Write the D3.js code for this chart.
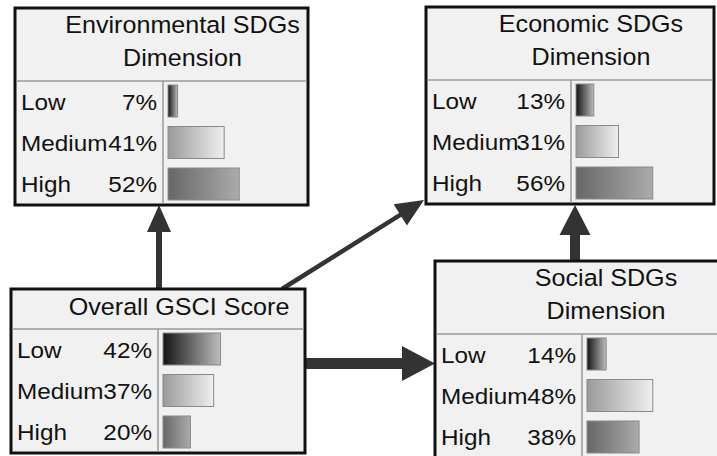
<!DOCTYPE html>
<html>
<head>
<meta charset="utf-8">
<script src="https://cdn.jsdelivr.net/npm/d3@7"></script>
<style>
  html, body { margin: 0; padding: 0; background: #fff; }
  svg { display: block; }
</style>
</head>
<body>
<svg id="chart" width="717" height="456"></svg>
<script>
// ---- Data ----
const states = ["Low", "Medium", "High"];
const nodeNames = ["Environmental SDGs Dimension", "Economic SDGs Dimension", "Overall GSCI Score", "Social SDGs Dimension"];
const environmentalValues = [7, 41, 52];
const economicValues = [13, 31, 56];
const overallValues = [42, 37, 20];
const socialValues = [14, 48, 38];
const titleLines = [["Environmental SDGs", "Dimension"], ["Economic SDGs", "Dimension"], ["Overall GSCI Score"], ["Social SDGs", "Dimension"]];
const links = [["Overall GSCI Score", "Environmental SDGs Dimension"], ["Overall GSCI Score", "Economic SDGs Dimension"], ["Overall GSCI Score", "Social SDGs Dimension"], ["Social SDGs Dimension", "Economic SDGs Dimension"]];

// ---- Layout ----
const valuesByNode = [environmentalValues, economicValues, overallValues, socialValues];
const boxLayout = [
  { x: 15,  y: 8,   w: 293, div: 148 },
  { x: 426, y: 7,   w: 288, div: 145 },
  { x: 11,  y: 289, w: 294, div: 147 },
  { x: 435, y: 261, w: 300, div: 147 }
];
const nodes = nodeNames.map((name, i) => ({ name, lines: titleLines[i], values: valuesByNode[i], ...boxLayout[i] }));

const svg = d3.select("#chart");
const font = "'Liberation Sans', Arial, sans-serif";
const x = d3.scaleLinear().domain([0, 100]).range([0, 137]);

// gradients
const defs = svg.append("defs");
const grads = { Low: ["#141414", "#bdbdbd"], Medium: ["#9a9a9a", "#efefef"], High: ["#676767", "#ababab"] };
states.forEach(s => {
  const g = defs.append("linearGradient").attr("id", "g" + s).attr("x1", "0%").attr("x2", "100%").attr("y1", "0%").attr("y2", "0%");
  g.append("stop").attr("offset", "0%").attr("stop-color", grads[s][0]);
  g.append("stop").attr("offset", "100%").attr("stop-color", grads[s][1]);
});

// ---- Arrows ----
function arrow(sx, sy, tx, ty, stemW, headL, headW) {
  const dx = tx - sx, dy = ty - sy, L = Math.hypot(dx, dy);
  const ux = dx / L, uy = dy / L, px = -uy, py = ux;
  const bx = tx - ux * headL, by = ty - uy * headL;
  const pts = [
    [sx + px * stemW / 2, sy + py * stemW / 2],
    [bx + px * stemW / 2, by + py * stemW / 2],
    [bx + px * headW / 2, by + py * headW / 2],
    [tx, ty],
    [bx - px * headW / 2, by - py * headW / 2],
    [bx - px * stemW / 2, by - py * stemW / 2],
    [sx - px * stemW / 2, sy - py * stemW / 2]
  ];
  svg.append("path").attr("d", d3.line()(pts) + "Z").attr("fill", "#333");
}
const arrowGeom = [
  [159, 292, 159, 205, 6, 27, 24],
  [282, 289, 424, 200, 4.5, 28, 25],
  [300, 363.5, 435, 363.5, 11, 33, 35],
  [575, 264, 575, 205, 10, 30, 31]
];
links.forEach((l, i) => arrow(...arrowGeom[i]));

// ---- Boxes ----
nodes.forEach(n => {
  const g = svg.append("g").attr("transform", `translate(${n.x},${n.y})`);
  const twoLine = n.lines.length === 2;
  const headH = twoLine ? 73 : 40;
  const rowStart = twoLine ? 0 : -33;
  const h = twoLine ? 197 : 164;
  g.append("rect").attr("x", 0).attr("y", 0).attr("width", n.w).attr("height", h)
    .attr("fill", "#f1f1f1").attr("stroke", "#111").attr("stroke-width", 3);
  g.append("line").attr("x1", 1.5).attr("x2", n.w - 1.5).attr("y1", headH).attr("y2", headH)
    .attr("stroke", "#9a9a9a").attr("stroke-width", 1.5);
  g.append("line").attr("x1", n.div).attr("x2", n.div).attr("y1", headH).attr("y2", h - 1.5)
    .attr("stroke", "#9a9a9a").attr("stroke-width", 1.5);
  // title
  const tcx = n.w / 2 + 21;
  n.lines.forEach((t, i) => {
    g.append("text").attr("transform", `translate(${tcx},${(twoLine ? 25 : 26) + i * 33}) scale(1.07,1)`)
      .attr("text-anchor", "middle").attr("font-family", font).attr("font-size", 23.5).attr("fill", "#111").text(t);
  });
  // rows
  states.forEach((s, i) => {
    const by = 101.5 + rowStart + i * 41;
    g.append("text").attr("transform", `translate(6,${by}) scale(1.08,1)`)
      .attr("font-family", font).attr("font-size", 22.5).attr("fill", "#111").text(s);
    g.append("text").attr("transform", `translate(${n.div - 6},${by}) scale(1.08,1)`)
      .attr("text-anchor", "end").attr("font-family", font).attr("font-size", 22.5).attr("fill", "#111").text(n.values[i] + "%");
    g.append("rect").attr("x", n.div + 5).attr("y", 77 + rowStart + i * 41.5).attr("width", x(n.values[i])).attr("height", 32)
      .attr("fill", `url(#g${s})`).attr("stroke", "#8a8a8a").attr("stroke-width", 1);
  });
});
</script>
</body>
</html>
